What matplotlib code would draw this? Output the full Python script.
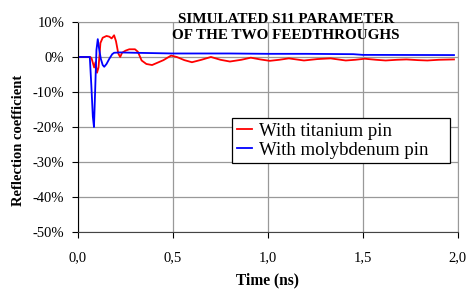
import matplotlib.pyplot as plt
from matplotlib.ticker import FuncFormatter

# titanium pin response (time in ns, reflection in %)
t_ti = [0.0, 0.065, 0.072, 0.085, 0.092, 0.1, 0.108, 0.118, 0.13, 0.15, 0.165,
        0.177, 0.19, 0.2, 0.212, 0.222, 0.232, 0.25, 0.27, 0.3, 0.315, 0.335,
        0.36, 0.39, 0.42, 0.45, 0.49, 0.52, 0.56, 0.6, 0.65, 0.7, 0.75, 0.8,
        0.86, 0.91, 0.96, 1.01, 1.06, 1.11, 1.15, 1.19, 1.26, 1.33, 1.41, 1.46,
        1.51, 1.57, 1.62, 1.68, 1.73, 1.79, 1.84, 1.9, 1.98]
s_ti = [0.0, 0.0, -0.5, -3.0, -1.5, -4.5, -3.0, 4.0, 5.5, 6.0, 5.8,
        5.3, 6.2, 4.5, 1.0, 0.0, 1.2, 1.8, 2.2, 2.2, 1.5, -1.0,
        -2.0, -2.3, -1.6, -0.9, 0.4, 0.0, -0.9, -1.5, -0.8, 0.0, -0.8, -1.3,
        -0.8, -0.2, -0.7, -1.1, -0.8, -0.4, -0.7, -1.0, -0.6, -0.4, -1.0, -0.8,
        -0.5, -0.8, -1.0, -0.8, -0.7, -0.9, -1.0, -0.8, -0.7]

# molybdenum pin response
t_mo = [0.0, 0.062, 0.07, 0.078, 0.084, 0.09, 0.097, 0.104, 0.112, 0.12,
        0.13, 0.138, 0.15, 0.165, 0.18, 0.19, 0.22, 0.3, 0.5, 0.8, 1.0,
        1.2, 1.45, 1.5, 1.98]
s_mo = [0.0, 0.0, -8.0, -17.0, -20.0, -10.0, 2.0, 5.1, 2.0, -0.5,
        -2.3, -2.8, -2.0, -0.5, 0.8, 1.2, 1.3, 1.2, 1.0, 1.0, 0.9,
        0.9, 0.8, 0.6, 0.55]

x_ticks = [0.0, 0.5, 1.0, 1.5, 2.0]
y_ticks = [10, 0, -10, -20, -30, -40, -50]

plt.rcParams['font.family'] = ['Liberation Serif', 'DejaVu Serif']

fig = plt.figure(figsize=(4.7, 2.89), dpi=100)
ax = fig.add_axes([0.166, 0.197, 0.808, 0.727])

ax.plot(t_ti, s_ti, color='#ff0000', lw=1.3, label='With titanium pin')
ax.plot(t_mo, s_mo, color='#0000ff', lw=1.3, label='With molybdenum pin')

ax.set_xlim(0, 2.0)
ax.set_ylim(-50, 10)
ax.set_xticks(x_ticks)
ax.set_yticks(y_ticks)
ax.xaxis.set_major_formatter(FuncFormatter(lambda v, p: f'{v:.1f}'.replace('.', ',')))
ax.yaxis.set_major_formatter(FuncFormatter(lambda v, p: f'{v:.0f}%'))
ax.tick_params(labelsize=10.5, direction='out', length=4, width=0.8)
ax.tick_params(axis='y', pad=6)
ax.tick_params(axis='x', pad=10)
ax.grid(True, color='#999999', lw=0.9)
ax.set_axisbelow(True)

for side in ['top', 'right']:
    ax.spines[side].set_color('#999999')
ax.spines['left'].set_color('black')
ax.spines['bottom'].set_color('#444444')

ax.set_xlabel('Time (ns)', fontsize=11.2, fontweight='bold')
ax.xaxis.set_label_coords(0.5, -0.19)
ax.set_ylabel('Reflection coefficient', fontsize=10.5, fontweight='bold', va='center')
ax.yaxis.set_label_coords(-0.158, 0.438)

fig.text(0.609, 0.905, 'SIMULATED S11 PARAMETER\nOF THE TWO FEEDTHROUGHS',
         ha='center', va='center', fontsize=10.9, fontweight='bold', linespacing=1.25)

leg = ax.legend(loc='upper left', bbox_to_anchor=(0.405, 0.443, 0.574, 0.1),
                mode='expand', fontsize=13.5,
                frameon=True, fancybox=False, edgecolor='black', framealpha=1,
                handlelength=0.8, handletextpad=0.4, borderpad=0.25,
                labelspacing=0.1, borderaxespad=0)
leg.get_frame().set_linewidth(0.9)

fig.savefig('out.png', dpi=100)
